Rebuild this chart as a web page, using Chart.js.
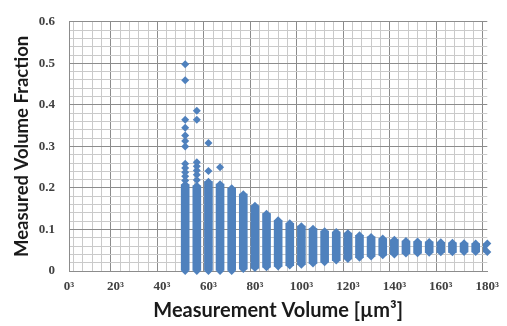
<!DOCTYPE html>
<html><head><meta charset="utf-8">
<script src="https://cdn.jsdelivr.net/npm/chart.js@4"></script>
<style>html,body{margin:0;padding:0;background:#fff}#c{display:block}</style>
</head><body>
<canvas id="c" width="507" height="326"></canvas>
<script>
// Measurement volume edge lengths (µm) of each point column
const volumes = [50,55,60,65,70,75,80,85,90,95,100,105,110,115,120,125,130,135,140,145,150,155,160,165,170,175,180];
// lowest and highest value of the dense stack of points in each column
const columnMin = [0,0,0,0,0,0.005,0.007,0.009,0.011,0.013,0.015,0.018,0.021,0.025,0.029,0.032,0.035,0.038,0.040,0.042,0.043,0.044,0.045,0.045,0.046,0.046,0.046];
const columnMax = [0.208,0.205,0.215,0.209,0.199,0.185,0.157,0.138,0.122,0.115,0.108,0.102,0.096,0.094,0.091,0.086,0.082,0.078,0.075,0.072,0.071,0.070,0.069,0.068,0.067,0.066,0.066];
// separate points above the dense stacks
const pointX = [50,50,50,50,50,50,50,50,50,50,50,50, 55,55,55,55,55,55,55, 60,60, 65];
const pointY = [0.498,0.459,0.364,0.345,0.326,0.313,0.300,0.258,0.248,0.238,0.228,0.218, 0.386,0.364,0.262,0.252,0.242,0.232,0.219, 0.308,0.241, 0.250];
// axis tick labels
const yTickValues = [0,0.1,0.2,0.3,0.4,0.5,0.6];
const yTickLabels = ['0','0.1','0.2','0.3','0.4','0.5','0.6'];
const xTickValues = [0,20,40,60,80,100,120,140,160,180];
const xTickLabels = ['0³','20³','40³','60³','80³','100³','120³','140³','160³','180³'];

const BLUE = '#4F81BD';
const MAJOR = '#8c8c8c', MINOR = '#cacaca';

function findLabel(values, labels, v) {
  for (let i = 0; i < values.length; i++) if (Math.abs(values[i] - v) < 1e-6) return labels[i];
  return null;
}

const bars = volumes.map((v, i) => ({x: v, y: [columnMin[i], columnMax[i]]}));
const pts = [];
volumes.forEach((v, i) => { pts.push({x: v, y: columnMin[i]}); pts.push({x: v, y: columnMax[i]}); });
pointX.forEach((v, i) => pts.push({x: v, y: pointY[i]}));

new Chart(document.getElementById('c'), {
  type: 'scatter',
  data: {
    datasets: [
      {type: 'bar', data: bars, backgroundColor: BLUE, borderWidth: 0, barThickness: 8, grouped: false},
      {type: 'scatter', data: pts, backgroundColor: BLUE, pointStyle: 'rectRot', pointRadius: 4, pointBorderWidth: 0, clip: false}
    ]
  },
  options: {
    responsive: false,
    animation: false,
    events: [],
    layout: {padding: {top: 14, right: 14, left: 0, bottom: 0}},
    plugins: {legend: {display: false}, tooltip: {enabled: false}},
    scales: {
      x: {
        type: 'linear', min: 0, max: 180, offset: false,
        afterFit(s) { s.height = 55; },
        ticks: {
          stepSize: 4, autoSkip: false, maxRotation: 0, padding: 8,
          color: '#404040', font: {family: 'Liberation Serif', size: 13, weight: 'bold'},
          callback: (v) => { const l = findLabel(xTickValues, xTickLabels, v); return l === null ? '' : l; }
        },
        grid: {
          drawTicks: false,
          color: (c) => (c.tick && findLabel(xTickValues, xTickLabels, c.tick.value) !== null) ? MAJOR : MINOR
        },
        border: {display: true, color: MAJOR},
        title: {display: true, text: 'Measurement Volume [µm³]', color: '#1a1a1a',
          font: {family: 'Lato', size: 20, weight: 'bold'}, padding: {top: 0, bottom: 3}}
      },
      y: {
        type: 'linear', min: 0, max: 0.6,
        afterFit(s) { s.width = 69; },
        ticks: {
          stepSize: 0.02, autoSkip: false, padding: 14,
          color: '#404040', font: {family: 'Liberation Serif', size: 13, weight: 'bold'},
          callback: (v) => { const l = findLabel(yTickValues, yTickLabels, v); return l === null ? '' : l; }
        },
        grid: {
          drawTicks: false,
          color: (c) => (c.tick && findLabel(yTickValues, yTickLabels, c.tick.value) !== null) ? MAJOR : MINOR
        },
        border: {display: true, color: MAJOR},
        title: {display: true, text: 'Measured Volume Fraction', color: '#1a1a1a',
          font: {family: 'Lato', size: 18.5, weight: 'bold'}, padding: {top: 11, bottom: 0}}
      }
    }
  }
});
</script>
</body></html>
